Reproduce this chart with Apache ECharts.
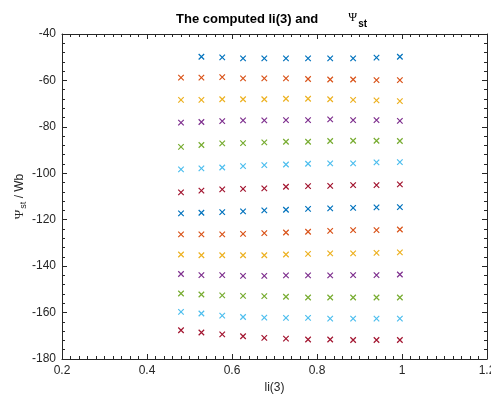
<!DOCTYPE html>
<html><head><meta charset="utf-8">
<script src="https://cdn.jsdelivr.net/npm/echarts@6/dist/echarts.min.js"></script>
<style>html,body{margin:0;padding:0;background:#fff}#c{width:491px;height:394px}</style>
</head><body><div id="c"></div>
<script>
const xCols = [0.48, 0.528, 0.577, 0.626, 0.676, 0.727, 0.779, 0.831, 0.885, 0.94, 0.995];
const colors = ['#0072BD','#D95319','#EDB120','#7E2F8E','#77AC30','#4DBEEE','#A2142F'];
const row1 = [null, -49.8, -50.1, -50.5, -50.5, -50.5, -50.5, -50.5, -50.5, -50.2, -49.8];
const row2 = [-58.8, -58.8, -58.6, -59.1, -59.1, -59.1, -59.4, -59.6, -59.6, -59.9, -59.9];
const row3 = [-68.4, -68.4, -68.1, -68.1, -68.1, -67.9, -67.9, -68.1, -68.4, -68.6, -68.9];
const row4 = [-78.2, -77.9, -77.5, -77.2, -77.2, -77.1, -77.1, -76.8, -77.1, -77.1, -77.4];
const row5 = [-88.6, -87.8, -87.1, -87.0, -86.7, -86.4, -86.4, -86.1, -86.0, -86.0, -86.1];
const row6 = [-98.3, -97.9, -97.5, -96.9, -96.5, -96.2, -95.9, -95.7, -95.7, -95.3, -95.2];
const row7 = [-108.2, -107.5, -106.9, -106.7, -106.5, -105.8, -105.5, -105.4, -105.1, -105.1, -104.8];
const row8 = [-117.3, -117.0, -116.7, -116.4, -116.0, -115.7, -115.3, -115.1, -114.9, -114.7, -114.6];
const row9 = [-126.3, -126.3, -126.3, -126.1, -125.8, -125.5, -125.2, -124.8, -124.5, -124.5, -124.2];
const row10 = [-135.0, -135.3, -135.3, -135.3, -135.3, -135.0, -134.7, -134.5, -134.5, -134.3, -134.1];
const row11 = [-143.4, -143.9, -143.9, -144.2, -144.2, -144.0, -144.0, -144.0, -143.9, -143.9, -143.6];
const row12 = [-151.8, -152.2, -152.6, -152.8, -152.9, -153.2, -153.5, -153.5, -153.5, -153.5, -153.5];
const row13 = [-159.7, -160.4, -161.3, -161.9, -162.2, -162.3, -162.3, -162.6, -162.6, -162.6, -162.6];
const row14 = [-167.6, -168.6, -169.4, -170.2, -170.9, -171.2, -171.6, -171.6, -171.8, -171.8, -171.8];
const rows = [row1,row2,row3,row4,row5,row6,row7,row8,row9,row10,row11,row12,row13,row14];

const FONT = 'Liberation Sans';
const crossPath = 'path://M0,0L10,10M10,0L0,10';
const series = rows.map((r, i) => ({
  type: 'scatter',
  symbol: crossPath,
  symbolSize: 5.5,
  itemStyle: { color: 'transparent', borderColor: colors[i % 7], borderWidth: 1.2, opacity: 1 },
  emphasis: { disabled: true },
  data: r.map((y, j) => y === null ? null : [xCols[j], y]).filter(d => d)
}));

const tickStyle = { color: '#262626', width: 1 };
function mkAxis(extra) {
  return Object.assign({
    axisLine: { show: true, onZero: false, lineStyle: tickStyle },
    axisTick: { show: true, inside: true, length: 5, lineStyle: tickStyle },
    splitLine: { show: false },
    axisLabel: { color: '#262626', fontFamily: FONT, fontSize: 12, margin: 6 },
    nameTextStyle: { color: '#262626', fontFamily: FONT, fontSize: 12 }
  }, extra);
}
const chart = echarts.init(document.getElementById('c'), null, { renderer: 'canvas' });
chart.setOption({
  animation: false,
  backgroundColor: '#fff',
  title: {
    text: '{a|The computed li(3) and}      {b|Ψ}{c|st}',
    left: 171, top: 5,
    textStyle: {
      rich: {
        a: { fontFamily: FONT, fontWeight: 'bold', fontSize: 13, color: '#000' },
        b: { fontFamily: 'Liberation Serif', fontWeight: 'normal', fontSize: 12, color: '#000', padding: [0, 0, 3, 0] },
        c: { fontFamily: FONT, fontWeight: 'bold', fontSize: 10, color: '#000', padding: [9, 0, 0, 1] }
      }
    }
  },
  grid: { left: 62, right: 4, top: 34, bottom: 35, show: false, outerBoundsMode: 'none', containLabel: false },
  xAxis: [
    mkAxis({
      type: 'value', min: 0.2, max: 1.2, interval: 0.2, position: 'bottom',
      minorTick: { show: true, splitNumber: 10, length: 3, lineStyle: tickStyle },
      name: 'li(3)', nameLocation: 'middle', nameGap: 21,
      axisLabel: { color: '#262626', fontFamily: FONT, fontSize: 12, margin: 6,
        formatter: v => String(Math.round(v * 10) / 10) }
    }),
    mkAxis({
      type: 'value', min: 0.2, max: 1.2, interval: 0.2, position: 'top',
      minorTick: { show: true, splitNumber: 10, length: 3, lineStyle: tickStyle },
      axisLabel: { show: false }
    })
  ],
  yAxis: [
    mkAxis({
      type: 'value', min: -180, max: -40, interval: 20, position: 'left',
      minorTick: { show: true, splitNumber: 5, length: 3, lineStyle: tickStyle },
      name: '{b|Ψ}{c|st}{a| / Wb}', nameLocation: 'middle', nameGap: 34, nameRotate: 90,
      nameMoveOverlap: false,
      nameTextStyle: { rich: {
        a: { fontFamily: FONT, fontSize: 12, color: '#262626' },
        b: { fontFamily: 'Liberation Serif', fontSize: 13, color: '#262626' },
        c: { fontFamily: FONT, fontSize: 9, color: '#262626', padding: [7, 0, 0, 1] }
      } }
    }),
    mkAxis({
      type: 'value', min: -180, max: -40, interval: 20, position: 'right',
      minorTick: { show: true, splitNumber: 5, length: 3, lineStyle: tickStyle },
      axisLabel: { show: false }
    })
  ],
  series: series
});
</script></body></html>
